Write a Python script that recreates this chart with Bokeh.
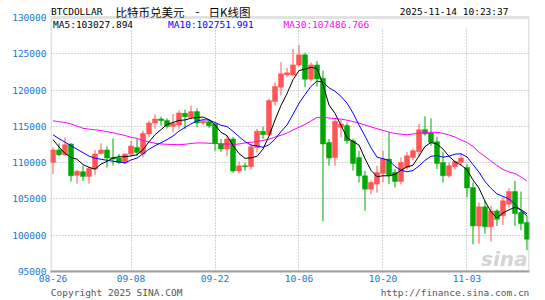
from bokeh.plotting import figure
from bokeh.models import (ColumnDataSource, Range1d, FixedTicker, Label, BoxAnnotation,
                          LinearAxis)
from bokeh.embed import file_html
from bokeh.resources import INLINE

# ---- data (daily candles 08-26 .. ) ----
OPEN = [110030, 111740, 111090, 112560, 108250, 108750, 108100, 109110, 111270, 111740,
        110700, 110630, 110020, 111180, 112100, 111180, 113950, 115450, 116020, 115800,
        115000, 115200, 116790, 116250, 117030, 115470, 115640, 115330, 112570, 111880,
        113260, 108860, 109570, 109430, 112100, 114310, 113850, 118410, 120390, 122090,
        122090, 123470, 124850, 121490, 123470, 121630, 112790, 110700, 114860, 115100,
        113000, 110720, 108190, 106350, 107040, 108500, 110490, 108640, 107400, 109330,
        110720, 111500, 114540, 114080, 112880, 110030, 108190, 109430, 110030, 109330,
        106570, 101280, 103910, 101150, 103350, 102670, 104280, 106020, 103120, 101740]
HIGH = [112100, 112650, 113480, 112700, 109000, 109570, 109430, 111740, 112650, 112240,
        113340, 111200, 111300, 113000, 113260, 114400, 115800, 116650, 116330, 116100,
        116700, 117200, 117300, 117850, 117500, 116000, 116000, 115500, 113260, 113710,
        113500, 110160, 110020, 112560, 114640, 114960, 118820, 121070, 123840, 123060,
        125690, 126230, 125170, 123800, 124000, 122700, 113260, 116000, 115880, 115500,
        113300, 111640, 108880, 107540, 109570, 111640, 114170, 109110, 110720, 111500,
        111960, 115330, 116380, 116100, 113570, 111500, 110030, 110300, 111190, 109800,
        107260, 104500, 104740, 104050, 103590, 105190, 106490, 107500, 106020, 102670]
LOW = [108450, 110900, 110880, 107400, 107100, 107500, 107120, 108330, 111100, 109330,
       109600, 109800, 109800, 110900, 110950, 110700, 113480, 114700, 115100, 114700,
       114180, 114630, 114630, 115950, 114860, 115200, 114800, 111640, 111500, 110950,
       108600, 108500, 108900, 109100, 111400, 113260, 113700, 117850, 119240, 121800,
       121900, 123200, 120390, 121200, 120500, 101930, 109570, 109570, 113480, 112600,
       108900, 107260, 103350, 105660, 105880, 107260, 107040, 106570, 107000, 109000,
       110300, 110800, 113710, 112330, 109110, 107260, 107950, 109020, 109570, 105190,
       98760, 98840, 100220, 99120, 101280, 101420, 103800, 101280, 100690, 97930]
CLOSE = [111750, 111090, 112470, 108200, 108800, 108100, 109200, 111185, 111740, 110630,
         110500, 110020, 111180, 112300, 111400, 114030, 115470, 116020, 115800, 115000,
         115400, 116850, 116330, 117030, 115470, 115700, 115090, 112700, 111880, 113260,
         108850, 109570, 109430, 112190, 114310, 113850, 118550, 120480, 122230, 122370,
         123470, 124850, 121490, 123470, 121540, 112570, 110630, 115700, 115330, 113000,
         109880, 108190, 106350, 107260, 108640, 110490, 108190, 107400, 110030, 110950,
         111640, 114540, 113950, 112790, 109880, 108190, 109570, 110160, 110630, 106490,
         101280, 103910, 101150, 103350, 102210, 104740, 106020, 102980, 101600, 99450]
MA5 = [113160, 112150, 111270, 110720, 110462, 109732, 109354, 109097, 109805, 110171,
       110651, 110815, 110814, 110926, 111080, 111786, 112876, 113844, 114544, 115264,
       115538, 115814, 115876, 116122, 116216, 116276, 115924, 115198, 114168, 113726,
       112356, 111252, 110598, 110660, 110870, 111870, 113666, 115876, 117884, 119496,
       121420, 122680, 122882, 123130, 122964, 120784, 117940, 116782, 115154, 113446,
       112908, 112420, 110550, 108936, 108064, 108186, 108186, 108396, 108950, 109412,
       109642, 110912, 112222, 112774, 112560, 111870, 110876, 110118, 109686, 109008,
       107626, 106494, 104692, 103236, 102380, 103072, 103494, 103860, 103510, 102958]
MA10 = [113830, 113300, 112820, 112330, 111850, 111370, 110900, 110610, 110470, 110317,
        110192, 110085, 109956, 110366, 110626, 111219, 111846, 112329, 112735, 113172,
        113662, 114345, 114860, 115333, 115740, 115907, 115869, 115537, 115145, 114971,
        114316, 113588, 112898, 112414, 112298, 112113, 112459, 113237, 114272, 115183,
        116645, 118173, 119379, 120507, 121230, 121102, 120310, 119832, 119142, 118205,
        116846, 115180, 113666, 112045, 110755, 110547, 110303, 109473, 108943, 108738,
        108914, 109549, 110309, 110862, 110986, 110756, 110894, 111170, 111230, 110784,
        109748, 108685, 107405, 106461, 105694, 105349, 104994, 104276, 103373, 102669]
MA30 = [115770, 115640, 115530, 115320, 115050, 114730, 114620, 114520, 114430, 114260,
        114110, 113930, 113740, 113500, 113330, 113050, 112840, 112670, 112570, 112530,
        112500, 112470, 112530, 112640, 112710, 112710, 112670, 112640, 112600, 112560,
        112500, 112570, 112710, 112800, 112910, 113050, 113220, 113530, 113770, 114080,
        114500, 114870, 115260, 115740, 116220, 116250, 116150, 116080, 115990, 115850,
        115670, 115440, 115190, 114920, 114680, 114430, 114200, 114020, 113920, 113840,
        113950, 114070, 114130, 114180, 114180, 114040, 113810, 113530, 113120, 112780,
        112220, 111460, 110840, 110220, 109600, 109050, 108710, 108500, 108020, 107470]

TICK_INDEX = [0, 13, 27, 41, 55, 69]
TICK_LABELS = ["08-26", "09-08", "09-22", "10-06", "10-20", "11-03"]
Y_TICKS = [95000, 100000, 105000, 110000, 115000, 120000, 125000, 130000]

SYMBOL = "BTCDOLLAR"
TITLE_CN = "比特币兑美元"
TITLE_KIND = "日K线图"
TIMESTAMP = "2025-11-14 10:23:37"
MA5_LAST, MA10_LAST, MA30_LAST = 103027.894, 102751.991, 107486.766
COPYRIGHT = "Copyright 2025 SINA.COM"
URL = "http://finance.sina.com.cn"

# layout constants (not data): the frame reaches the top of the canvas so that the
# header can live inside it; the price box itself ends at the top tick.
Y_FRAME_TOP = 132340
LEGEND_BAND_BOTTOM = 128500
FOOTER_POS = [10.6, 67.0]

UP_COLOR = "#ff5555"
DOWN_COLOR = "#00a800"
AXIS_TEXT = "#1478d0"
BOX_COLOR = "#a0a0a0"
MONO = "DejaVu Sans Mono"
CJK = "Noto Sans CJK SC"

# ---- sources ----
idx = list(range(len(CLOSE)))


def subset(cond):
    sel = [i for i in idx if cond(i)]
    return ColumnDataSource(dict(
        x=sel,
        top=[max(OPEN[i], CLOSE[i]) for i in sel],
        bottom=[min(OPEN[i], CLOSE[i]) for i in sel],
        high=[HIGH[i] for i in sel],
        low=[LOW[i] for i in sel],
    ))


up_src = subset(lambda i: CLOSE[i] >= OPEN[i])
dn_src = subset(lambda i: CLOSE[i] < OPEN[i])
ma_src = ColumnDataSource(dict(x=idx, ma5=MA5, ma10=MA10, ma30=MA30))

p = figure(width=545, height=300,
           x_range=Range1d(-0.42, len(CLOSE) - 0.58),
           y_range=Range1d(Y_TICKS[0], Y_FRAME_TOP),
           output_backend="svg", toolbar_location=None,
           min_border_left=50, min_border_right=16,
           min_border_top=0, min_border_bottom=29)
p.background_fill_color = "white"
p.border_fill_color = "white"
p.outline_line_alpha = 0

# axes
for ax in (p.xaxis[0], p.yaxis[0]):
    ax.major_tick_in = 0
    ax.major_tick_out = 0
    ax.minor_tick_in = 0
    ax.minor_tick_out = 0
    ax.major_label_text_font = MONO
    ax.major_label_text_font_size = "9.5px"
    ax.major_label_text_color = AXIS_TEXT

p.xaxis.axis_line_color = BOX_COLOR
p.xaxis.axis_line_width = 2
p.yaxis.axis_line_alpha = 0
p.xaxis.ticker = FixedTicker(ticks=TICK_INDEX)
p.xaxis.major_label_overrides = {t: lab for t, lab in zip(TICK_INDEX, TICK_LABELS)}
p.xaxis.major_label_standoff = 3
p.yaxis.ticker = FixedTicker(ticks=Y_TICKS)
p.yaxis.major_label_overrides = {t: str(t) for t in Y_TICKS}
p.yaxis.major_label_standoff = 4

# footer as a second, line-less axis below the date axis
footer = LinearAxis(ticker=FixedTicker(ticks=FOOTER_POS),
                    major_label_overrides={FOOTER_POS[0]: COPYRIGHT, FOOTER_POS[1]: URL},
                    axis_line_alpha=0, major_tick_in=0, major_tick_out=0,
                    minor_tick_in=0, minor_tick_out=0, major_label_standoff=2,
                    major_label_text_font=MONO, major_label_text_font_size="9.5px",
                    major_label_text_color="#555555")
p.add_layout(footer, "below")

# grids
p.xgrid.ticker = FixedTicker(ticks=TICK_INDEX[1:])
p.ygrid.ticker = FixedTicker(ticks=Y_TICKS[1:-1])
for g in (p.xgrid[0], p.ygrid[0]):
    g.grid_line_color = "#aaaaaa"
    g.grid_line_dash = "1 2"
    g.grid_line_width = 1

# white band: header + MA legend strip (hides the grid there)
p.add_layout(BoxAnnotation(bottom=LEGEND_BAND_BOTTOM, fill_color="white", fill_alpha=1,
                           line_alpha=0, level="underlay"))
# price box border
p.add_layout(BoxAnnotation(top=Y_TICKS[-1], bottom=Y_TICKS[0], fill_alpha=0,
                           line_color=BOX_COLOR, line_width=3, level="overlay"))

# candles
for src, col in ((up_src, UP_COLOR), (dn_src, DOWN_COLOR)):
    p.segment(x0="x", y0="high", x1="x", y1="low", source=src, line_color=col, line_width=1)
    p.vbar(x="x", width=0.83, top="top", bottom="bottom", source=src,
           fill_color=col, line_color=col, line_width=0.5)

# moving averages
p.line("x", "ma30", source=ma_src, line_color="#ff00ff", line_width=1)
p.line("x", "ma10", source=ma_src, line_color="#0000ff", line_width=1)
p.line("x", "ma5", source=ma_src, line_color="#000000", line_width=1)


def lab(text, x, y, color="black", font=MONO, size="9.5px", align="left", style="normal", alpha=1.0):
    p.add_layout(Label(x=x, y=y, x_units="screen", y_units="screen", text=text,
                       text_font=font, text_font_size=size, text_color=color,
                       text_align=align, text_baseline="middle", text_font_style=style,
                       text_alpha=alpha))


# header (screen units relative to the frame's bottom-left corner)
lab(SYMBOL, 0.5, 260)
lab(TITLE_CN, 65, 260, font=CJK, size="11.5px")
lab("-", 147, 260, font=CJK, size="11.5px", align="center")
lab(TITLE_KIND, 158, 260, font=CJK, size="11.5px")
lab(TIMESTAMP, 458, 260, align="right")

# MA legend
lab(f"MA5:{MA5_LAST:.3f}", 2.5, 247.5, color="black")
lab(f"MA10:{MA10_LAST:.3f}", 117.5, 247.5, color="#0000ff")
lab(f"MA30:{MA30_LAST:.3f}", 233, 247.5, color="#ff00ff")

# watermark
lab("sina", 477, 13, color="#c8c8c8", font="DejaVu Sans", size="20px",
    align="right", style="bold italic", alpha=0.8)

open("out.html", "w").write(file_html(p, INLINE))
